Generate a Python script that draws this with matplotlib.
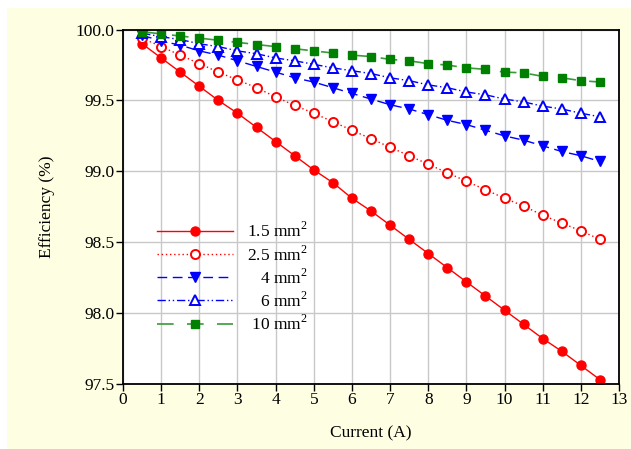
import matplotlib.pyplot as plt
from matplotlib.patches import Rectangle

plt.rcParams['font.family'] = ['Liberation Serif', 'DejaVu Serif']
plt.rcParams['mathtext.fontset'] = 'custom'
plt.rcParams['mathtext.rm'] = 'Liberation Serif'

current = [0.5, 1, 1.5, 2, 2.5, 3, 3.5, 4, 4.5, 5, 5.5, 6, 6.5,
           7, 7.5, 8, 8.5, 9, 9.5, 10, 10.5, 11, 11.5, 12, 12.5]

eff_1_5 = [99.90, 99.80, 99.70, 99.60, 99.50, 99.41, 99.31, 99.21, 99.11, 99.01,
           98.92, 98.81, 98.72, 98.62, 98.52, 98.42, 98.32, 98.22, 98.12, 98.02,
           97.92, 97.82, 97.73, 97.63, 97.53]
eff_2_5 = [99.94, 99.88, 99.82, 99.76, 99.70, 99.645, 99.59, 99.525, 99.465, 99.41,
           99.35, 99.29, 99.23, 99.17, 99.11, 99.05, 98.99, 98.93, 98.87, 98.81,
           98.755, 98.69, 98.635, 98.58, 98.52]
eff_4 = [99.96, 99.92, 99.89, 99.85, 99.82, 99.78, 99.74, 99.70, 99.66, 99.63,
         99.59, 99.55, 99.51, 99.47, 99.44, 99.40, 99.36, 99.33, 99.29, 99.25,
         99.22, 99.18, 99.14, 99.11, 99.07]
eff_6 = [99.975, 99.95, 99.93, 99.90, 99.88, 99.85, 99.83, 99.80, 99.78, 99.755,
         99.73, 99.71, 99.69, 99.66, 99.64, 99.61, 99.59, 99.56, 99.54, 99.51,
         99.49, 99.46, 99.44, 99.41, 99.385]
eff_10 = [99.985, 99.97, 99.955, 99.94, 99.925, 99.91, 99.895, 99.88, 99.865, 99.85,
          99.835, 99.82, 99.81, 99.79, 99.78, 99.76, 99.75, 99.73, 99.72, 99.70,
          99.695, 99.67, 99.66, 99.64, 99.63]

labels = ['1.5 mm$^2$', '2.5 mm$^2$', '   4 mm$^2$', '   6 mm$^2$', ' 10 mm$^2$']

fig = plt.figure(figsize=(6.31, 4.49), dpi=100)
fig.patch.set_facecolor('white')
fig.patches.append(Rectangle((7 / 631, 0), 1, 1 - 8 / 449, transform=fig.transFigure,
                             facecolor='#fefee2', edgecolor='none', zorder=-10))
ax = fig.add_axes([0.195, 0.145, 0.786, 0.789])

ax.plot(current, eff_1_5, color='#ff0000', lw=1, ls='-', marker='o', ms=6.5,
        mfc='#ff0000', mec='#ff0000', label=labels[0])
ax.plot(current, eff_2_5, color='#ff0000', lw=1, ls=(0, (1, 2)), marker='o', ms=6.5,
        mfc='white', mec='#ff0000', mew=1.4, label=labels[1])
ax.plot(current, eff_4, color='#0000ff', lw=1, ls=(0, (7, 4)), marker='v', ms=6.5,
        mfc='#0000ff', mec='#0000ff', label=labels[2])
ax.plot(current, eff_6, color='#0000ff', lw=1, ls=(0, (6, 2, 1, 2, 1, 2)), marker='^',
        ms=6.5, mfc='white', mec='#0000ff', mew=1.4, label=labels[3])
ax.plot(current, eff_10, color='#3a9a3a', lw=1.2, ls=(0, (10, 8)), marker='s', ms=6,
        mfc='#008000', mec='#008000', label=labels[4])

ax.set_xlim(0, 13)
ax.set_ylim(97.5, 100.0)
ax.set_xticks(range(0, 14))
ax.set_yticks([97.5, 98.0, 98.5, 99.0, 99.5, 100.0])
ax.set_yticklabels(['97.5', '98.0', '98.5', '99.0', '99.5', '100.0'])
ax.grid(True, color='#c8c8c8', lw=1)
ax.set_axisbelow(True)
ax.tick_params(direction='out', length=5, width=1, labelsize=12.5, pad=1, colors='black')
for s in ax.spines.values():
    s.set_linewidth(1.3)
    s.set_color('black')

ax.set_xlabel('Current (A)', fontsize=12.5, labelpad=12)
ax.set_ylabel('Efficiency (%)', fontsize=12.5, labelpad=15)

leg = ax.legend(loc='upper left', bbox_to_anchor=(0.05, 0.482), frameon=False,
                fontsize=12.5, numpoints=1, handlelength=4.4, handletextpad=0.8,
                labelspacing=0.22, borderpad=0)

fig.savefig('out.png', dpi=100, facecolor=fig.get_facecolor())
